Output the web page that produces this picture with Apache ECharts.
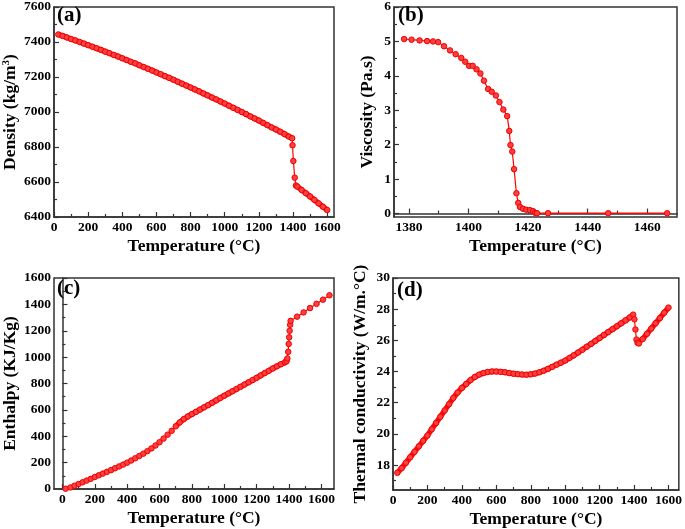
<!DOCTYPE html>
<html>
<head>
<meta charset="utf-8">
<script src="https://cdn.jsdelivr.net/npm/echarts@6/dist/echarts.min.js"></script>
<style>
html,body{margin:0;padding:0;background:#fff;}
#chart{width:685px;height:529px;}
</style>
</head>
<body>
<div id="chart"></div>
<script>
// ---------- (a) Density ----------
var densityT = [25,50,75,100,125,150,175,200,225,250,275,300,325,350,375,400,425,450,475,500,525,550,575,600,625,650,675,700,725,750,775,800,825,850,875,900,925,950,975,1000,1025,1050,1075,1100,1125,1150,1175,1200,1225,1250,1275,1300,1325,1350,1375,1395,1397,1402,1410,1417,1425,1450,1475,1500,1525,1550,1575,1600];
var densityV = [7443,7435,7426,7417,7409,7400,7391,7382,7373,7364,7355,7345,7336,7326,7317,7307,7297,7287,7278,7267,7257,7247,7237,7226,7216,7205,7195,7184,7173,7162,7151,7140,7129,7118,7106,7095,7083,7072,7060,7048,7036,7024,7012,7000,6988,6975,6963,6951,6938,6925,6912,6900,6887,6874,6860,6850,6810,6720,6625,6580,6574,6555,6536,6517,6498,6478,6459,6440];
// ---------- (b) Viscosity ----------
var viscT = [1378.4,1380.9,1383.6,1386.1,1388.1,1389.8,1391.8,1393.8,1395.7,1397.6,1398.9,1400.2,1401.4,1402.7,1404.0,1405.2,1406.6,1407.8,1409.2,1410.4,1411.7,1413.0,1413.7,1414.1,1414.7,1415.3,1416.1,1416.7,1417.3,1418.3,1419.4,1420.6,1421.7,1422.4,1423.0,1426.7,1446.9,1466.7];
var viscV = [5.07,5.05,5.03,5.01,5.00,4.98,4.86,4.74,4.63,4.52,4.41,4.29,4.29,4.19,4.07,3.86,3.62,3.54,3.43,3.24,3.02,2.83,2.40,1.99,1.80,1.29,0.59,0.31,0.19,0.14,0.11,0.10,0.07,0.02,0.01,0.01,0.01,0.01];
// ---------- (c) Enthalpy ----------
var enthT = [20,50,75,100,125,150,175,200,225,250,275,300,325,350,375,400,425,450,475,500,525,550,575,600,625,650,675,700,725,750,775,800,825,850,875,900,925,950,975,1000,1025,1050,1075,1100,1125,1150,1175,1200,1225,1250,1275,1300,1325,1350,1375,1385,1390,1395,1398,1401,1404,1407,1410,1450,1490,1530,1570,1610,1650];
var enthV = [2,12,25,38,51,64,77,91,104,117,130,143,157,171,185,200,216,233,250,268,287,308,330,355,382,412,441,475,505,530,550,568,585,602,619,636,654,672,690,707,724,741,758,775,792,809,826,843,861,879,896,914,930,946,960,968,990,1040,1100,1150,1200,1245,1275,1307,1339,1372,1404,1436,1469];
// ---------- (d) Thermal conductivity ----------
var condT = [25,50,75,100,125,150,175,200,225,250,275,300,325,350,375,400,425,450,475,500,525,550,575,600,625,650,675,700,725,750,775,800,825,850,875,900,925,950,975,1000,1025,1050,1075,1100,1125,1150,1175,1200,1225,1250,1275,1300,1325,1350,1375,1395,1402,1408,1414,1420,1428,1450,1475,1500,1525,1550,1575,1600];
var condV = [17.5,17.8,18.15,18.5,18.85,19.2,19.55,19.9,20.3,20.7,21.1,21.5,21.9,22.3,22.65,22.95,23.2,23.45,23.65,23.8,23.9,23.97,24.0,24.0,23.98,23.95,23.9,23.86,23.83,23.81,23.8,23.82,23.87,23.95,24.05,24.17,24.3,24.44,24.57,24.7,24.87,25.04,25.22,25.4,25.59,25.77,25.96,26.15,26.34,26.53,26.72,26.9,27.09,27.28,27.47,27.65,27.35,26.7,26.05,25.85,25.8,26.08,26.42,26.76,27.1,27.43,27.77,28.1];

// ---------- tick values ----------
var ticksA_x = [0,200,400,600,800,1000,1200,1400,1600];
var minorA_x = [100,300,500,700,900,1100,1300,1500];
var ticksA_y = [6400,6600,6800,7000,7200,7400,7600];
var minorA_y = [6500,6700,6900,7100,7300,7500];
var ticksB_x = [1380,1400,1420,1440,1460];
var minorB_x = [1390,1410,1430,1450];
var ticksB_y = [0,1,2,3,4,5,6];
var minorB_y = [0.5,1.5,2.5,3.5,4.5,5.5];
var ticksC_x = [0,200,400,600,800,1000,1200,1400,1600];
var minorC_x = [100,300,500,700,900,1100,1300,1500];
var ticksC_y = [0,200,400,600,800,1000,1200,1400,1600];
var minorC_y = [100,300,500,700,900,1100,1300,1500];
var ticksD_x = [0,200,400,600,800,1000,1200,1400,1600];
var minorD_x = [100,300,500,700,900,1100,1300,1500];
var ticksD_y = [18,20,22,24,26,28,30];
var minorD_y = [17,19,21,23,25,27,29];

var FONT = '"Liberation Serif","Times New Roman",serif';
var AXC = '#333';

function pairs(xs, ys){ return xs.map(function(x,i){ return [x, ys[i]]; }); }
function plain(v){ return String(v); }

var grids = [
  {left:54, top:5, width:280, height:212},
  {left:394, top:5, width:283, height:212},
  {left:54, top:278, width:280, height:211},
  {left:393, top:278, width:287, height:217}
];
grids.forEach(function(g){ g.show=true; g.borderColor=AXC; g.borderWidth=1.5; g.backgroundColor='transparent'; g.containLabel=false; });

var xAxes = [], yAxes = [];
function addAxes(gi, xmin, xmax, xt, xm, ymin, ymax, yt, ym, yname, yGap, rich){
  xAxes.push({
    type:'value', gridIndex:gi, min:xmin, max:xmax, position:'bottom',
    name:'Temperature (\u00B0C)', nameLocation:'middle', nameGap:20,
    nameTextStyle:{fontFamily:FONT, fontWeight:'bold', fontSize:17.5, color:'#000'},
    axisLine:{show:true, lineStyle:{color:AXC, width:1.5}},
    axisTick:{show:true, inside:true, length:5, customValues:xt, lineStyle:{color:AXC, width:1.2}},
    axisLabel:{show:true, customValues:xt, formatter:plain, margin:4, fontFamily:FONT, fontWeight:'bold', fontSize:13.5, color:'#000'},
    splitLine:{show:false}
  });
  xAxes.push({
    type:'value', gridIndex:gi, min:xmin, max:xmax, position:'bottom',
    axisLine:{show:false},
    axisTick:{show:true, inside:true, length:3, customValues:xm, lineStyle:{color:AXC, width:1.2}},
    axisLabel:{show:false}, splitLine:{show:false}
  });
  var nts = {fontFamily:FONT, fontWeight:'bold', fontSize:17.5, color:'#000'};
  if (rich) nts.rich = rich;
  yAxes.push({
    type:'value', gridIndex:gi, min:ymin, max:ymax, position:'left',
    name:yname, nameLocation:'middle', nameGap:yGap, nameRotate:90,
    nameTextStyle:nts,
    axisLine:{show:true, lineStyle:{color:AXC, width:1.5}},
    axisTick:{show:true, inside:true, length:5, customValues:yt, lineStyle:{color:AXC, width:1.2}},
    axisLabel:{show:true, customValues:yt, formatter:plain, margin:3, fontFamily:FONT, fontWeight:'bold', fontSize:13.5, color:'#000'},
    splitLine:{show:false}
  });
  yAxes.push({
    type:'value', gridIndex:gi, min:ymin, max:ymax, position:'left',
    axisLine:{show:false},
    axisTick:{show:true, inside:true, length:3, customValues:ym, lineStyle:{color:AXC, width:1.2}},
    axisLabel:{show:false}, splitLine:{show:false}
  });
}

var supRich = {sup:{fontFamily:FONT, fontWeight:'bold', fontSize:11, color:'#000', padding:[0,0,8,0]}};
addAxes(0, 0, 1640, ticksA_x, minorA_x, 6400, 7600, ticksA_y, minorA_y, 'Density (kg/m{sup|3})', 34, supRich);
addAxes(1, 1375, 1470, ticksB_x, minorB_x, -0.1, 6, ticksB_y, minorB_y, 'Viscosity (Pa.s)', 18, null);
addAxes(2, -52, 1678, ticksC_x, minorC_x, 0, 1600, ticksC_y, minorC_y, 'Enthalpy (KJ/Kg)', 35, null);
addAxes(3, 0, 1660, ticksD_x, minorD_x, 16.4, 30, ticksD_y, minorD_y, 'Thermal conductivity (W/m.\u00B0C)', 24, null);

// markers on every point, thin connecting line
function mkSeries(idx, data){
  return {
    type:'line', xAxisIndex:idx*2, yAxisIndex:idx*2, data:data,
    symbol:'circle', symbolSize:5.5, showSymbol:true,
    lineStyle:{color:'#ff0000', width:1.2},
    itemStyle:{color:'#ff4040', borderColor:'#f00000', borderWidth:1},
    animation:false, z:3
  };
}
// thick band under densely sampled stretches (same data, filtered by range)
function mkBand(idx, xs, ys, lo, hi){
  var d = [];
  xs.forEach(function(x,i){ d.push((x>=lo && x<=hi) ? [x, ys[i]] : [x, null]); });
  return {
    type:'line', xAxisIndex:idx*2, yAxisIndex:idx*2, data:d,
    symbol:'none', connectNulls:false,
    lineStyle:{color:'#ff1010', width:5.5},
    animation:false, z:2
  };
}

var series = [
  mkBand(0, densityT, densityV, 0, 1395),
  mkBand(0, densityT, densityV, 1417, 1700),
  mkSeries(0, pairs(densityT, densityV)),
  mkSeries(1, pairs(viscT, viscV)),
  mkBand(2, enthT, enthV, 700, 1390),
  mkSeries(2, pairs(enthT, enthV)),
  mkBand(3, condT, condV, 0, 1395),
  mkBand(3, condT, condV, 1420, 1700),
  mkSeries(3, pairs(condT, condV))
];

function lbl(t, x, y){
  return {type:'text', left:x, top:y, z:10,
    style:{text:t, fontFamily:FONT, fontWeight:'bold', fontSize:21, fill:'#000'}};
}

var chart = echarts.init(document.getElementById('chart'), null, {renderer:'canvas'});
chart.setOption({
  backgroundColor:'#fff',
  animation:false,
  grid:grids,
  xAxis:xAxes,
  yAxis:yAxes,
  series:series,
  graphic:[lbl('(a)',57,5), lbl('(b)',398,5), lbl('(c)',57,278), lbl('(d)',397,280)]
});
</script>
</body>
</html>
